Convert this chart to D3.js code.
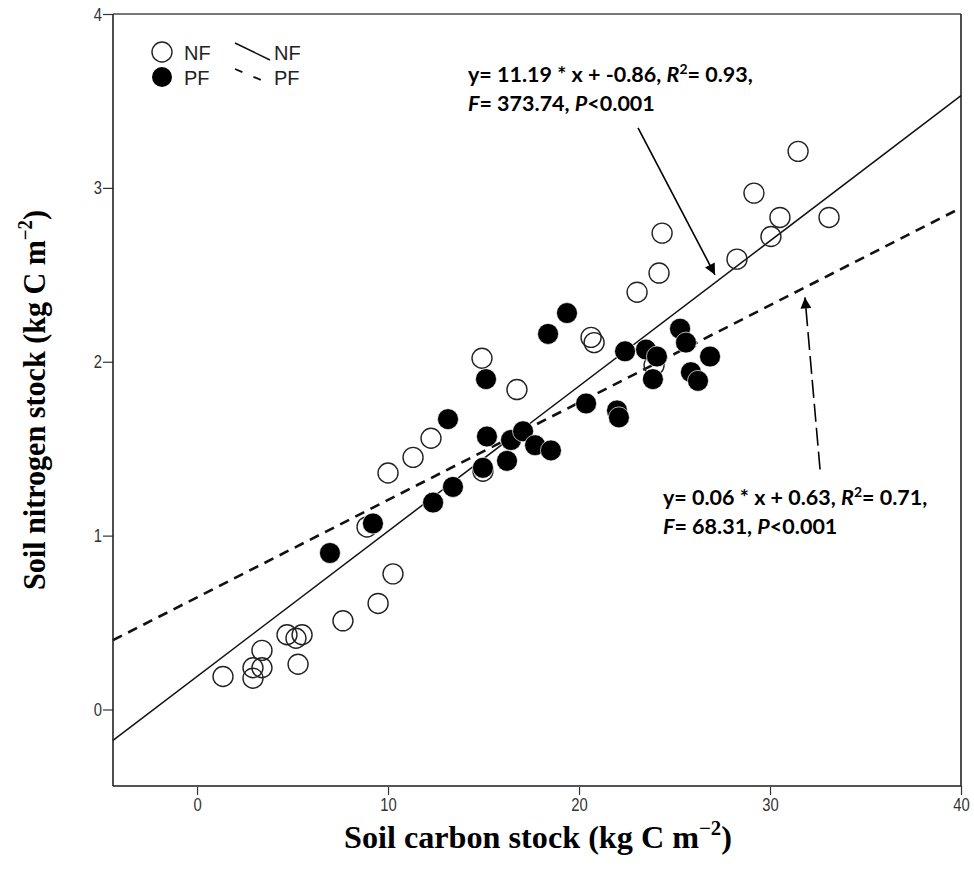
<!DOCTYPE html>
<html>
<head>
<meta charset="utf-8">
<script src="https://cdn.jsdelivr.net/npm/d3@7"></script>
<style>
  body { margin: 0; background: #fff; }
  svg { display: block; }
</style>
</head>
<body>
<svg id="main-chart"></svg>
<script>
// values (kg C m-2 vs kg N m-2)
const groups = ["NF", "PF"];
const nfCarbon = [1.36, 2.93, 2.93, 3.40, 3.40, 4.71, 5.18, 5.50, 5.29, 7.64, 9.48, 10.26, 8.90, 10.0, 11.31, 12.25, 14.92, 16.75, 14.97, 20.63, 20.79, 23.04, 24.19, 24.35, 28.27, 29.16, 30.05, 30.52, 31.47, 33.09, 23.93];
const nfNitrogen = [0.19, 0.18, 0.24, 0.24, 0.34, 0.43, 0.41, 0.43, 0.26, 0.51, 0.61, 0.78, 1.05, 1.36, 1.45, 1.56, 2.02, 1.84, 1.37, 2.14, 2.11, 2.40, 2.51, 2.74, 2.59, 2.97, 2.72, 2.83, 3.21, 2.83, 1.98];
const pfCarbon = [6.96, 9.21, 12.36, 13.40, 13.14, 15.13, 15.18, 14.97, 16.23, 16.44, 17.07, 17.70, 18.53, 18.38, 19.37, 20.37, 21.99, 22.09, 22.41, 23.51, 24.08, 23.87, 25.29, 25.60, 25.86, 26.23, 26.86];
const pfNitrogen = [0.90, 1.07, 1.19, 1.28, 1.67, 1.90, 1.57, 1.39, 1.43, 1.55, 1.60, 1.52, 1.49, 2.16, 2.28, 1.76, 1.72, 1.68, 2.06, 2.07, 2.03, 1.90, 2.19, 2.11, 1.94, 1.89, 2.03];

// fitted lines as drawn (slope, intercept)
const fitSlope = [0.0835, 0.056];
const fitIntercept = [0.19, 0.645];

const xTicks = [0, 10, 20, 30, 40];
const yTicks = [0, 1, 2, 3, 4];
const xDomain = [-4.4, 40];
const yDomain = [-0.44, 4];

// annotation text lines
const nfLabel = [["y= 11.19 * x + -0.86, ", "R", "2", "= 0.93,"], ["F", "= 373.74, ", "P", "<0.001"]];
const pfLabel = [["y= 0.06 * x + 0.63, ", "R", "2", "= 0.71,"], ["F", "= 68.31, ", "P", "<0.001"]];
// arrows: [tailX, tailY, headX, headY] in data units
const nfArrow = [23.09, 3.345, 27.12, 2.50];
const pfArrow = [32.62, 1.38, 31.83, 2.37];

function plotchart() {
  const width = 974;
  const height = 874;
  const margin = ({top: 14, right: 13, bottom: 88, left: 113});

  const svg = d3.select("#main-chart")
    .attr("width", width)
    .attr("height", height);

  const x = d3.scaleLinear().domain(xDomain).range([margin.left, width - margin.right]);
  const y = d3.scaleLinear().domain(yDomain).range([height - margin.bottom, margin.top]);

  const tickFont = "'Liberation Sans', Arial, sans-serif";
  const serif = "'Liberation Serif', 'Times New Roman', serif";
  const annFont = "Lato, 'Open Sans', sans-serif";

  const defs = svg.append("defs");
  defs.append("marker")
    .attr("id", "head")
    .attr("viewBox", "0 0 10 10")
    .attr("refX", 10).attr("refY", 5)
    .attr("markerWidth", 15).attr("markerHeight", 11)
    .attr("markerUnits", "userSpaceOnUse")
    .attr("orient", "auto")
    .append("path").attr("d", "M0,0L10,5L0,10z").attr("fill", "#000");

  // axes
  const xAxis = g => g
    .attr("transform", `translate(0,${y.range()[0]})`)
    .call(d3.axisBottom(x).tickValues(xTicks).tickFormat(d3.format("d")).tickSize(9).tickSizeOuter(0))
    .call(g => g.select(".domain").remove())
    .call(g => g.selectAll(".tick line").attr("stroke", "#333").attr("stroke-width", 1.2))
    .call(g => g.selectAll(".tick text").attr("y", 0).attr("dy", 0)
      .attr("transform", "translate(0,25) scale(0.78,1)")
      .attr("font-size", 19).attr("font-family", tickFont).attr("fill", "#333"));

  const yAxis = g => g
    .attr("transform", `translate(${x.range()[0]},0)`)
    .call(d3.axisLeft(y).tickValues(yTicks).tickFormat(d3.format("d")).tickSize(10).tickSizeOuter(0))
    .call(g => g.select(".domain").remove())
    .call(g => g.selectAll(".tick line").attr("stroke", "#333").attr("stroke-width", 1.2))
    .call(g => g.selectAll(".tick text").attr("x", 0)
      .attr("transform", "translate(-11,0) scale(0.78,1)")
      .attr("font-size", 19).attr("font-family", tickFont).attr("fill", "#333"));

  svg.append("g").call(xAxis);
  svg.append("g").call(yAxis);

  // frame
  const [x0, x1] = x.range();
  const [y0, y1] = y.range();
  svg.append("line").attr("x1", x0).attr("x2", x1).attr("y1", y1).attr("y2", y1)
    .attr("stroke", "#777").attr("stroke-width", 2.2);
  svg.append("line").attr("x1", x0).attr("x2", x1).attr("y1", y0).attr("y2", y0)
    .attr("stroke", "#555").attr("stroke-width", 2.2);
  svg.append("line").attr("x1", x0).attr("x2", x0).attr("y1", y1).attr("y2", y0)
    .attr("stroke", "#222").attr("stroke-width", 1.6);
  svg.append("line").attr("x1", x1).attr("x2", x1).attr("y1", y1).attr("y2", y0)
    .attr("stroke", "#222").attr("stroke-width", 1.6);

  // fit lines
  const plot = svg.append("g");
  const dashes = [null, "10,7"];
  const widths = [1.5, 2.6];
  groups.forEach((grp, i) => {
    const ends = xDomain.map(c => [c, fitIntercept[i] + fitSlope[i] * c]);
    plot.append("path")
      .datum(ends)
      .attr("fill", "none")
      .attr("stroke", "#111")
      .attr("stroke-width", widths[i])
      .attr("stroke-dasharray", dashes[i])
      .attr("d", d3.line().x(d => x(d[0])).y(d => y(d[1])));
  });

  // points
  const nf = nfCarbon.map((c, i) => ({c: c, n: nfNitrogen[i]}));
  const pf = pfCarbon.map((c, i) => ({c: c, n: pfNitrogen[i]}));

  plot.selectAll(".nf")
    .data(nf)
    .join("circle")
    .attr("class", "nf")
    .attr("cx", d => x(d.c))
    .attr("cy", d => y(d.n))
    .attr("r", 10)
    .attr("fill", "none")
    .attr("stroke", "#222")
    .attr("stroke-width", 1.4);

  plot.selectAll(".pf")
    .data(pf)
    .join("circle")
    .attr("class", "pf")
    .attr("cx", d => x(d.c))
    .attr("cy", d => y(d.n))
    .attr("r", 10.5)
    .attr("fill", "#000")
    .attr("stroke", "#fff")
    .attr("stroke-width", 0.7);

  // arrows
  svg.append("line")
    .attr("x1", x(nfArrow[0])).attr("y1", y(nfArrow[1]))
    .attr("x2", x(nfArrow[2])).attr("y2", y(nfArrow[3]))
    .attr("stroke", "#000").attr("stroke-width", 1.6)
    .attr("marker-end", "url(#head)");
  svg.append("line")
    .attr("x1", x(pfArrow[0])).attr("y1", y(pfArrow[1]))
    .attr("x2", x(pfArrow[2])).attr("y2", y(pfArrow[3]))
    .attr("stroke", "#000").attr("stroke-width", 1.6)
    .attr("stroke-dasharray", "18,6")
    .attr("marker-end", "url(#head)");

  // equation labels
  function equation(lines, left, base) {
    const t = svg.append("text")
      .attr("font-family", annFont)
      .attr("font-weight", 700)
      .attr("font-size", 21.5)
      .attr("fill", "#000");
    lines.forEach((parts, li) => {
      const row = t.append("tspan").attr("x", left).attr("y", base + li * 29);
      if (li === 0) {
        row.text(parts[0]);
        t.append("tspan").attr("font-style", "italic").text(parts[1]);
        t.append("tspan").attr("font-size", 14).attr("dy", -8).text(parts[2]);
        t.append("tspan").attr("dy", 8).text(parts[3]);
      } else {
        row.attr("font-style", "italic").text(parts[0]);
        t.append("tspan").text(parts[1]);
        t.append("tspan").attr("font-style", "italic").text(parts[2]);
        t.append("tspan").text(parts[3]);
      }
    });
  }
  equation(nfLabel, 468, 82);
  equation(pfLabel, 663, 505);

  // legend
  const lg = svg.append("g")
    .attr("font-family", "'Liberation Sans', Arial, sans-serif")
    .attr("font-size", 20)
    .attr("fill", "#222");
  lg.append("circle").attr("cx", 162).attr("cy", 52).attr("r", 10)
    .attr("fill", "none").attr("stroke", "#222").attr("stroke-width", 1.4);
  lg.append("circle").attr("cx", 162).attr("cy", 77).attr("r", 10).attr("fill", "#000");
  lg.append("text").attr("x", 184).attr("y", 60).text(groups[0]);
  lg.append("text").attr("x", 184).attr("y", 85).text(groups[1]);
  lg.append("line").attr("x1", 235).attr("y1", 43).attr("x2", 270).attr("y2", 60)
    .attr("stroke", "#111").attr("stroke-width", 1.5);
  lg.append("line").attr("x1", 235).attr("y1", 69).attr("x2", 268).attr("y2", 83)
    .attr("stroke", "#111").attr("stroke-width", 1.8).attr("stroke-dasharray", "8,12");
  lg.append("text").attr("x", 274).attr("y", 60).text(groups[0]);
  lg.append("text").attr("x", 274).attr("y", 85).text(groups[1]);

  // axis titles
  const xt = svg.append("text")
    .attr("x", 538).attr("y", 848)
    .attr("text-anchor", "middle")
    .attr("font-family", serif).attr("font-weight", 700).attr("font-size", 31)
    .attr("textLength", 388).attr("lengthAdjust", "spacingAndGlyphs");
  xt.append("tspan").text("Soil carbon stock (kg C m");
  xt.append("tspan").attr("font-size", 20).attr("dy", -13).text("\u22122");
  xt.append("tspan").attr("dy", 13).text(")");

  const yt = svg.append("text")
    .attr("transform", "translate(45,400) rotate(-90)")
    .attr("text-anchor", "middle")
    .attr("font-family", serif).attr("font-weight", 700).attr("font-size", 32)
    .attr("textLength", 380).attr("lengthAdjust", "spacingAndGlyphs");
  yt.append("tspan").text("Soil nitrogen stock (kg C m");
  yt.append("tspan").attr("font-size", 20).attr("dy", -13).text("\u22122");
  yt.append("tspan").attr("dy", 13).text(")");
}

plotchart();
</script>
</body>
</html>
